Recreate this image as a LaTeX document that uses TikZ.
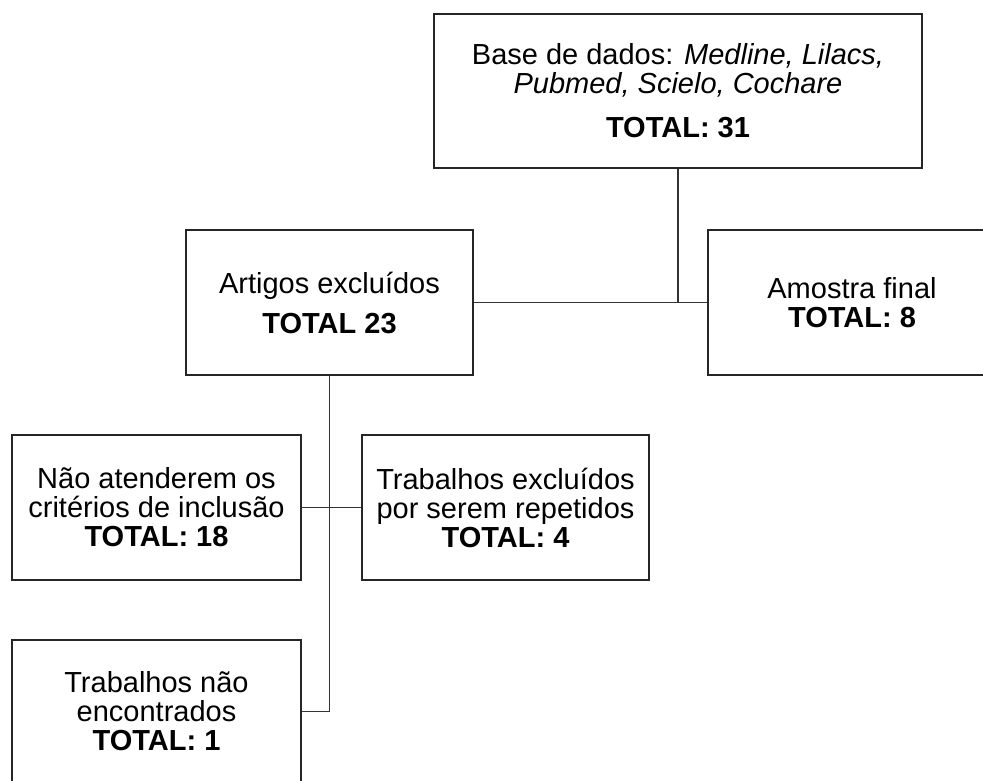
\documentclass[tikz,border=0pt]{standalone}
\usepackage{fontspec}
\setmainfont{Liberation Sans}
\begin{document}
\begin{tikzpicture}[x=1pt,y=-1pt,
  box/.style={draw=black!85, line width=1.8pt, rectangle, inner sep=0pt, align=center,
    font=\fontsize{29}{29}\selectfont},
  link/.style={draw=black!80, line width=1.9pt}]
\useasboundingbox (0,0) rectangle (983,781);
\clip (0,0) rectangle (983,781);
\fill[white] (0,0) rectangle (983,781);
\node[box, minimum width=488pt, minimum height=154pt] (db) at (678,91)
  {Base de dados: \textit{Medline, Lilacs,}\\\textit{Pubmed, Scielo, Cochare}\\[15pt]\textbf{TOTAL: 31}};
\node[box, minimum width=287pt, minimum height=145pt] (art) at (329.5,302.5)
  {Artigos excluídos\\[11pt]\textbf{TOTAL 23}};
\node[box, minimum width=288pt, minimum height=145pt] (amo) at (852,302.5)
  {Amostra final\\\textbf{TOTAL: 8}};
\node[box, minimum width=289pt, minimum height=145pt] (nao) at (156.5,507.5)
  {Não atenderem os\\critérios de inclusão\\\textbf{TOTAL: 18}};
\node[box, minimum width=287pt, minimum height=145pt] (rep) at (505.5,507.5)
  {Trabalhos excluídos\\por serem repetidos\\\textbf{TOTAL: 4}};
\node[box, minimum width=289pt, minimum height=143pt] (enc) at (156.5,711.5)
  {Trabalhos não\\encontrados\\\textbf{TOTAL: 1}};
\draw[link] (art.east) -- (amo.west);
\draw[link] (db.south) -- (db.south |- art.east);
\draw[link] (art.south) |- (enc.east);
\draw[link] (nao.east) -- (rep.west);
\end{tikzpicture}
\end{document}
